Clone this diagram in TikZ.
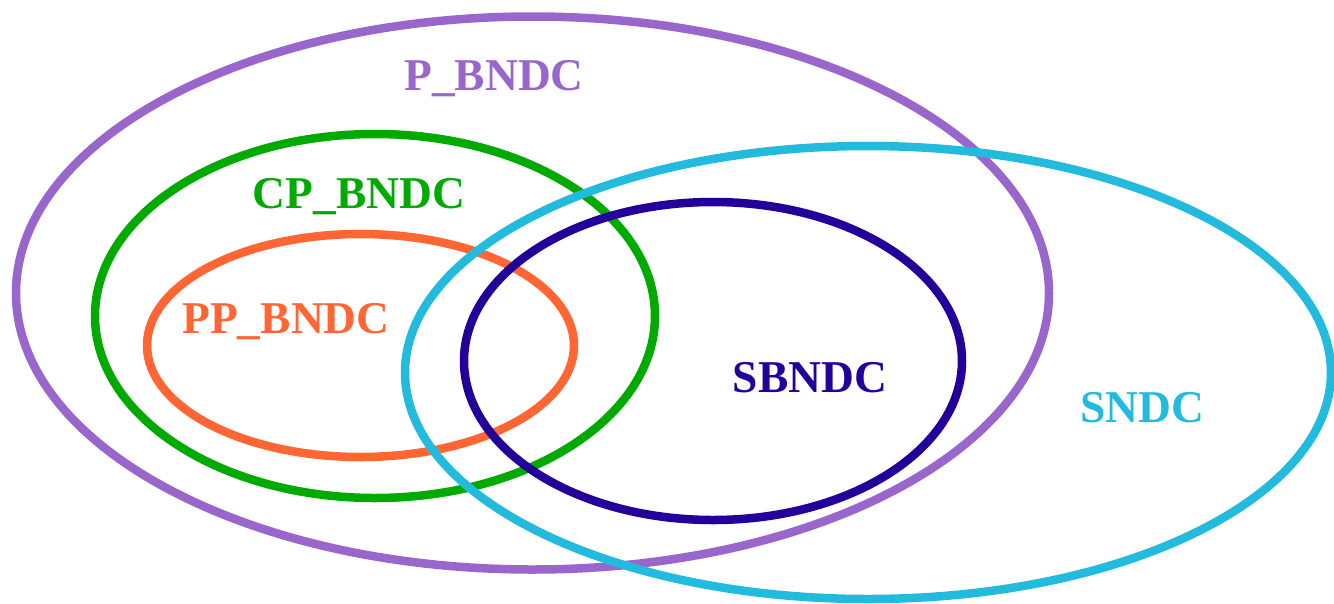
\documentclass[tikz,border=0pt]{standalone}
\usepackage{fontspec}
\setmainfont{Liberation Serif}
\definecolor{cPurple}{HTML}{9966CC}
\definecolor{cGreen}{HTML}{00AA00}
\definecolor{cOrange}{HTML}{FF6633}
\definecolor{cCyan}{HTML}{22BBDD}
\definecolor{cNavy}{HTML}{220099}
\tikzset{
  setline/.style={line width=8.5pt},
  setlabel/.style={font=\bfseries\fontsize{45.5}{54}\selectfont, inner sep=0pt}
}
\begin{document}
\begin{tikzpicture}[x=1pt,y=-1pt]
\useasboundingbox (0,0) rectangle (1334,603);
\draw[setline, cPurple] (532.5,293) ellipse [x radius=516.5, y radius=276.5];
\draw[setline, cGreen] (375,316) ellipse [x radius=280, y radius=182];
\draw[setline, cOrange] (360.5,345.5) ellipse [x radius=213.5, y radius=111.5];
\draw[setline, cCyan] (868,372.5) ellipse [x radius=463, y radius=226.5];
\draw[setline, cNavy] (713,361) ellipse [x radius=249, y radius=159];
\node[setlabel, text=cPurple] (pb) at (494,79) {P\_BNDC};
\node[setlabel, text=cGreen] (cpb) at (359,197) {CP\_BNDC};
\node[setlabel, text=cOrange] (ppb) at (286,322) {PP\_BNDC};
\node[setlabel, text=cNavy] (sb) at (810,378) {SBNDC};
\node[setlabel, text=cCyan] (sn) at (1142,408) {SNDC};
\end{tikzpicture}
\end{document}
